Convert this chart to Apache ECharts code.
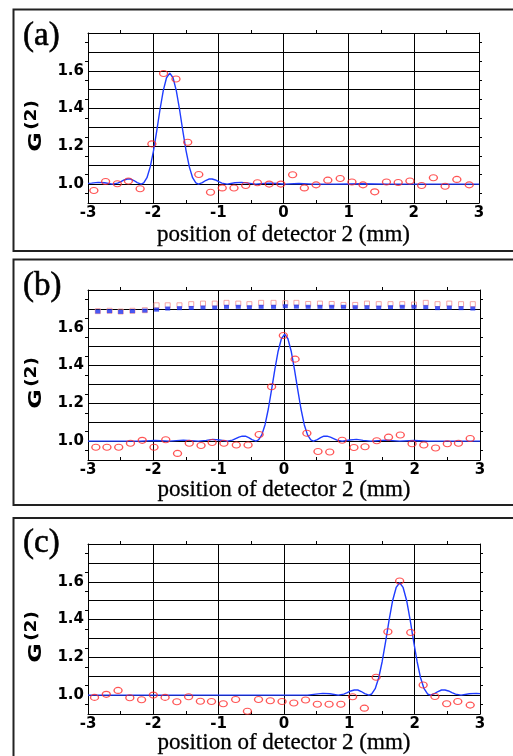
<!DOCTYPE html>
<html><head><meta charset="utf-8">
<script src="https://cdn.jsdelivr.net/npm/echarts@6/dist/echarts.min.js"></script>
<style>html,body{margin:0;padding:0;background:#fff}#c{width:513px;height:756px}</style>
</head><body><div id="c"></div>
<script>
// ---- tick labels / texts ----
const xTicks = [-3, -2, -1, 0, 1, 2, 3];
const yTickLabels = ['1.0', '1.2', '1.4', '1.6'];
const panelLabels = ['(a)', '(b)', '(c)'];
const xAxisTitle = 'position of detector 2 (mm)';

// ---- panel (a) ----
const dotXA = [-2.91,-2.73,-2.55,-2.38,-2.20,-2.02,-1.84,-1.65,-1.47,-1.30,-1.12,-0.94,-0.76,-0.58,-0.40,-0.22,-0.04,0.14,0.32,0.50,0.68,0.87,1.05,1.22,1.40,1.58,1.76,1.94,2.12,2.30,2.48,2.66,2.85];
const dotYA = [0.966,1.014,1.002,1.016,0.975,1.213,1.586,1.556,1.222,1.051,0.957,0.980,0.979,0.993,1.007,1.000,1.000,1.050,0.980,0.996,1.021,1.030,1.011,0.996,0.959,1.011,1.009,1.016,0.993,1.034,0.989,1.025,0.996];
const curveXA = [-3.0,-2.945,-2.845,-2.745,-2.625,-2.545,-2.495,-2.445,-2.395,-2.345,-2.295,-2.245,-2.185,-2.145,-2.095,-2.045,-1.995,-1.945,-1.895,-1.845,-1.795,-1.745,-1.695,-1.645,-1.595,-1.545,-1.495,-1.445,-1.395,-1.345,-1.305,-1.245,-1.195,-1.145,-1.095,-1.045,-0.995,-0.945,-0.865,-0.745,-0.645,-0.545,-0.425,-0.295,-0.195,-0.095,0.015,0.235,0.455,0.8,1.2,1.6,2.0,2.5,3.0];
const curveYA = [1.004,1.005,1.009,1.007,1.000,1.005,1.013,1.022,1.027,1.027,1.019,1.008,1.000,1.006,1.034,1.091,1.176,1.282,1.395,1.495,1.563,1.588,1.563,1.495,1.395,1.282,1.176,1.091,1.034,1.006,1.000,1.008,1.019,1.027,1.027,1.022,1.013,1.005,1.000,1.007,1.009,1.005,1.000,1.004,1.005,1.003,1.000,1.003,1.000,1.000,1.002,1.000,1.000,1.000,1.000];

// ---- panel (b) ----
const dotXB = [-2.88,-2.71,-2.53,-2.35,-2.17,-1.99,-1.81,-1.63,-1.45,-1.27,-1.10,-0.92,-0.73,-0.55,-0.38,-0.19,-0.01,0.17,0.35,0.52,0.70,0.89,1.07,1.24,1.42,1.60,1.78,1.96,2.14,2.32,2.50,2.67,2.85];
const dotYB = [0.968,0.968,0.968,0.989,1.004,0.968,1.007,0.935,0.989,0.977,0.993,0.989,0.979,0.979,1.035,1.288,1.559,1.434,1.042,0.945,0.942,1.005,0.966,0.970,1.002,1.021,1.032,0.986,0.979,0.963,0.986,0.989,1.014];
const curveXB = [-3.0,-2.19,-1.97,-1.75,-1.54,-1.31,-1.19,-1.09,-0.99,-0.87,-0.79,-0.74,-0.69,-0.64,-0.59,-0.54,-0.49,-0.43,-0.39,-0.34,-0.29,-0.24,-0.19,-0.14,-0.09,-0.04,0.01,0.06,0.11,0.16,0.21,0.26,0.31,0.36,0.41,0.45,0.51,0.56,0.61,0.66,0.71,0.76,0.81,0.89,1.01,1.11,1.21,1.33,1.56,1.77,1.99,2.21,3.0];
const curveYB = [1.000,1.000,1.003,1.000,1.005,1.000,1.004,1.009,1.006,1.000,1.005,1.013,1.021,1.026,1.026,1.018,1.008,1.000,1.006,1.033,1.087,1.170,1.272,1.380,1.476,1.542,1.566,1.542,1.476,1.380,1.272,1.170,1.087,1.033,1.006,1.000,1.008,1.018,1.026,1.026,1.021,1.013,1.005,1.000,1.006,1.009,1.004,1.000,1.005,1.000,1.003,1.000,1.000];
const squareXB = [-2.85,-2.67,-2.50,-2.32,-2.13,-1.95,-1.78,-1.60,-1.42,-1.24,-1.06,-0.88,-0.70,-0.53,-0.35,-0.16,0.02,0.19,0.37,0.55,0.73,0.91,1.09,1.27,1.45,1.63,1.81,1.99,2.17,2.35,2.53,2.71,2.89];
const blueSquareYB = [1.686,1.688,1.684,1.688,1.691,1.696,1.702,1.704,1.705,1.707,1.707,1.711,1.711,1.709,1.711,1.711,1.714,1.712,1.711,1.711,1.711,1.711,1.709,1.709,1.707,1.709,1.711,1.711,1.709,1.704,1.707,1.704,1.702];
const pinkSquareYB = [1.688,1.690,1.686,1.690,1.693,1.719,1.719,1.719,1.725,1.728,1.728,1.732,1.728,1.725,1.732,1.732,1.730,1.732,1.726,1.728,1.726,1.721,1.721,1.728,1.725,1.725,1.725,1.723,1.732,1.725,1.728,1.725,1.725];

// ---- panel (c) ----
const dotXC = [-2.90,-2.72,-2.54,-2.36,-2.18,-2.00,-1.82,-1.64,-1.46,-1.28,-1.11,-0.93,-0.74,-0.56,-0.39,-0.21,-0.03,0.15,0.33,0.51,0.69,0.87,1.05,1.23,1.41,1.59,1.77,1.94,2.13,2.31,2.49,2.66,2.85];
const dotYC = [0.988,1.004,1.025,0.986,0.975,1.000,0.988,0.965,0.991,0.968,0.966,0.954,0.977,0.915,0.977,0.970,0.966,0.958,0.974,0.952,0.952,0.952,0.991,0.931,1.095,1.335,1.604,1.332,1.053,0.993,0.954,0.966,0.947];
const curveXC = [-3.0,-2.0,-1.0,0.0,0.36,0.488,0.595,0.702,0.83,0.915,0.969,1.022,1.076,1.129,1.183,1.236,1.30,1.343,1.396,1.45,1.503,1.556,1.61,1.663,1.717,1.77,1.823,1.877,1.93,1.984,2.037,2.09,2.144,2.197,2.24,2.304,2.357,2.411,2.464,2.518,2.571,2.625,2.71,2.838,2.945,3.0];
const curveYC = [1.000,1.000,1.000,1.000,1.000,1.005,1.009,1.007,1.000,1.005,1.013,1.022,1.027,1.027,1.019,1.008,1.000,1.006,1.034,1.092,1.178,1.285,1.400,1.501,1.570,1.595,1.570,1.501,1.400,1.285,1.178,1.092,1.034,1.006,1.000,1.008,1.019,1.027,1.027,1.022,1.013,1.005,1.000,1.007,1.009,1.008];

function zip(xs, ys) { const n = Math.min(xs.length, ys.length); const r = []; for (let i = 0; i < n; i++) r.push([xs[i], ys[i]]); return r; }

const panels = [
  { top: 33, width: 391, frameTop: 9.5, frameBottom: 251, labelY: 36, titleY: 235, dots: zip(dotXA, dotYA), curve: zip(curveXA, curveYA) },
  { top: 290, width: 392, frameTop: 259.5, frameBottom: 505, labelY: 286, titleY: 490, dots: zip(dotXB, dotYB), curve: zip(curveXB, curveYB),
    blue: zip(squareXB, blueSquareYB), pink: zip(squareXB, pinkSquareYB) },
  { top: 544, width: 392, frameTop: 518, frameBottom: 790, labelY: 543, titleY: 743, dots: zip(dotXC, dotYC), curve: zip(curveXC, curveYC) }
];
const PLOT_H = 170, LEFT = 88;
const tickFont = { fontFamily: 'DejaVu Sans', fontWeight: 'bold', fontSize: 15, color: '#000' };
const axLine = { show: true, onZero: false, lineStyle: { color: '#000', width: 1 } };

const grid = [], xAxis = [], yAxis = [], series = [], graphic = [];
panels.forEach((p, i) => {
  grid.push({ left: LEFT, top: p.top, width: p.width, height: PLOT_H, containLabel: false });
  xAxis.push({ gridIndex: i, type: 'value', position: 'bottom', min: -3, max: 3, interval: 1,
    axisLine: axLine, axisTick: { show: true, inside: true, length: 4, lineStyle: { color: '#000' } },
    minorTick: { show: true, splitNumber: 2, length: 3, lineStyle: { color: '#000' } },
    axisLabel: Object.assign({ margin: 3, showMinLabel: true, showMaxLabel: true,
      formatter: v => xTicks.includes(Math.round(v)) ? String(Math.round(v)) : '' }, tickFont),
    splitLine: { show: true, lineStyle: { color: '#000', width: 1 } } });
  xAxis.push({ gridIndex: i, type: 'value', position: 'top', min: -3, max: 3, interval: 1,
    axisLine: axLine, axisTick: { show: false },
    minorTick: { show: true, splitNumber: 2, length: 3, lineStyle: { color: '#000' } },
    axisLabel: { show: false }, splitLine: { show: false } });
  yAxis.push({ gridIndex: i, type: 'value', position: 'left', min: 0.9, max: 1.8, interval: 0.1,
    axisLine: axLine, axisTick: { show: false },
    minorTick: { show: true, splitNumber: 2, length: 3, lineStyle: { color: '#000' } },
    axisLabel: Object.assign({ margin: 4, formatter: v => { const s = v.toFixed(1); return yTickLabels.includes(s) ? s : ''; } }, tickFont),
    splitLine: { show: true, lineStyle: { color: '#000', width: 1 } } });
  yAxis.push({ gridIndex: i, type: 'value', position: 'right', min: 0.9, max: 1.8, interval: 0.1,
    axisLine: axLine, axisTick: { show: false },
    minorTick: { show: true, splitNumber: 2, length: 3, lineStyle: { color: '#000' } },
    axisLabel: { show: false }, splitLine: { show: false } });

  const xi = 2 * i, yi = 2 * i;
  if (p.pink) {
    series.push({ type: 'scatter', xAxisIndex: xi, yAxisIndex: yi, data: p.pink, symbol: 'rect', symbolSize: [5, 5],
      itemStyle: { color: 'rgba(0,0,0,0)', borderColor: '#f29090', borderWidth: 1 }, z: 3, silent: true });
    series.push({ type: 'scatter', xAxisIndex: xi, yAxisIndex: yi, data: p.blue, symbol: 'rect', symbolSize: [5, 4],
      itemStyle: { color: '#1a2ff0' }, z: 4, silent: true });
  }
  series.push({ type: 'line', xAxisIndex: xi, yAxisIndex: yi, data: p.curve, showSymbol: false, smooth: false,
    lineStyle: { color: '#1f3cff', width: 1.4 }, z: 5, silent: true });
  series.push({ type: 'scatter', xAxisIndex: xi, yAxisIndex: yi, data: p.dots, symbol: 'circle', symbolSize: [8, 6],
    itemStyle: { color: 'rgba(0,0,0,0)', borderColor: '#ff2a2a', borderWidth: 1.2 }, z: 6, silent: true });

  graphic.push({ type: 'rect', shape: { x: 13.5, y: p.frameTop, width: 520, height: p.frameBottom - p.frameTop },
    style: { fill: 'none', stroke: '#222', lineWidth: 2 }, z: -1 });
  graphic.push({ type: 'text', x: 23, y: p.labelY, style: { text: panelLabels[i], fontFamily: 'Liberation Serif', fontSize: 33,
    fill: '#000', textVerticalAlign: 'middle', textAlign: 'left', stroke: '#000', lineWidth: 0.6 } });
  graphic.push({ type: 'text', x: LEFT + p.width / 2, y: p.titleY, style: { text: xAxisTitle, fontFamily: 'Liberation Serif', fontSize: 23,
    fill: '#000', textAlign: 'center', textVerticalAlign: 'middle', stroke: '#000', lineWidth: 0.3 } });
  graphic.push({ type: 'text', x: 37, y: p.top + 109, rotation: Math.PI / 2, scaleX: 1.4,
    style: { text: 'G', fontFamily: 'DejaVu Sans', fontWeight: 'bold', fontSize: 17, fill: '#000', textAlign: 'center', textVerticalAlign: 'middle' } });
  graphic.push({ type: 'text', x: 32, y: p.top + 82, rotation: Math.PI / 2, scaleX: 1.15,
    style: { text: '(2)', fontFamily: 'DejaVu Sans', fontWeight: 'bold', fontSize: 16, fill: '#000', textAlign: 'center', textVerticalAlign: 'middle' } });
});

const chart = echarts.init(document.getElementById('c'), null, { renderer: 'canvas' });
chart.setOption({ animation: false, backgroundColor: '#fff', grid, xAxis, yAxis, series, graphic });
</script>
</body></html>
